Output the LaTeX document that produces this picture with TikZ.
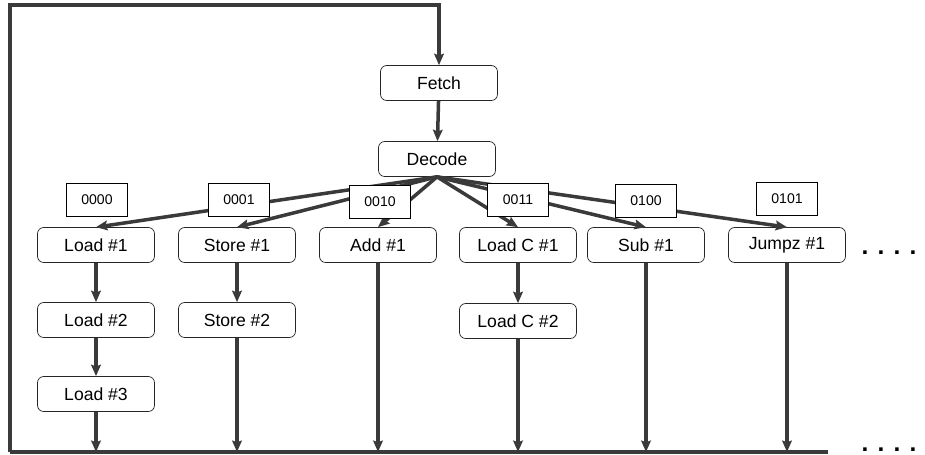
\documentclass[tikz,border=0pt]{standalone}
\usepackage{fontspec}
\setmainfont{Liberation Sans}
\usetikzlibrary{arrows.meta}
\definecolor{wire}{HTML}{3A3A3A}
\tikzset{
  stage/.style={draw=black!85,fill=white,rounded corners=3.5pt,minimum width=2.34cm,minimum height=0.7cm,font=\fontsize{10}{12}\selectfont},
  opcode/.style={draw=black,fill=white,minimum width=1.22cm,minimum height=0.66cm,font=\fontsize{8}{10}\selectfont},
  etc/.style={inner sep=0pt,anchor=base,font=\bfseries\fontsize{14}{16}\selectfont},
  flow/.style={line width=2pt,draw=wire,-{Stealth[length=6.5pt,width=5.5pt,inset=1pt]}},
  bus/.style={line width=2.4pt,draw=wire}
}
\begin{document}
\begin{tikzpicture}[x=0.02cm,y=-0.02cm]
\useasboundingbox (0,0) rectangle (925,454);
\node[stage] (fetch) at (439,83) {Fetch};
\node[stage] (decode) at (437,159) {Decode};
% first step of every instruction
\node[stage] (load1) at (96,245) {Load \#1};
\node[stage] (store1) at (237,245) {Store \#1};
\node[stage] (add1) at (378,245) {Add \#1};
\node[stage] (loadc1) at (518,245) {Load C \#1};
\node[stage] (sub1) at (646,245) {Sub \#1};
\node[stage] (jumpz1) at (787,245) {Jumpz \#1};
\node[etc] (more) at (889,254) {. . . .};
% later steps
\node[stage] (load2) at (96,320) {Load \#2};
\node[stage] (store2) at (237,320) {Store \#2};
\node[stage] (loadc2) at (518,321) {Load C \#2};
\node[stage] (load3) at (96,394) {Load \#3};
\coordinate (busl) at (10,452);
\coordinate (busr) at (828,452);
\coordinate (loop) at (439,5);
\node[etc] (morebus) at (889,451) {. . . .};

\draw[flow] (busl) |- (loop) -- (fetch);
\draw[flow] (fetch) -- (decode);
\foreach \n in {load1,store1,add1,loadc1,sub1,jumpz1}
  \draw[flow] (decode.south) -- (\n.north);
\node[opcode] (c0000) at (97,200) {0000};
\node[opcode] (c0001) at (239,200) {0001};
\node[opcode] (c0010) at (380,202) {0010};
\node[opcode] (c0011) at (518,200) {0011};
\node[opcode] (c0100) at (646,201) {0100};
\node[opcode] (c0101) at (787,199) {0101};

\draw[flow] (load1) -- (load2);
\draw[flow] (load2) -- (load3);
\draw[flow] (store1) -- (store2);
\draw[flow] (loadc1) -- (loadc2);
\draw[bus] (busl) -- (busr);
\foreach \n in {load3,store2,add1,loadc2,sub1,jumpz1}
  \draw[flow] (\n) -- (\n |- busl);
\end{tikzpicture}
\end{document}
